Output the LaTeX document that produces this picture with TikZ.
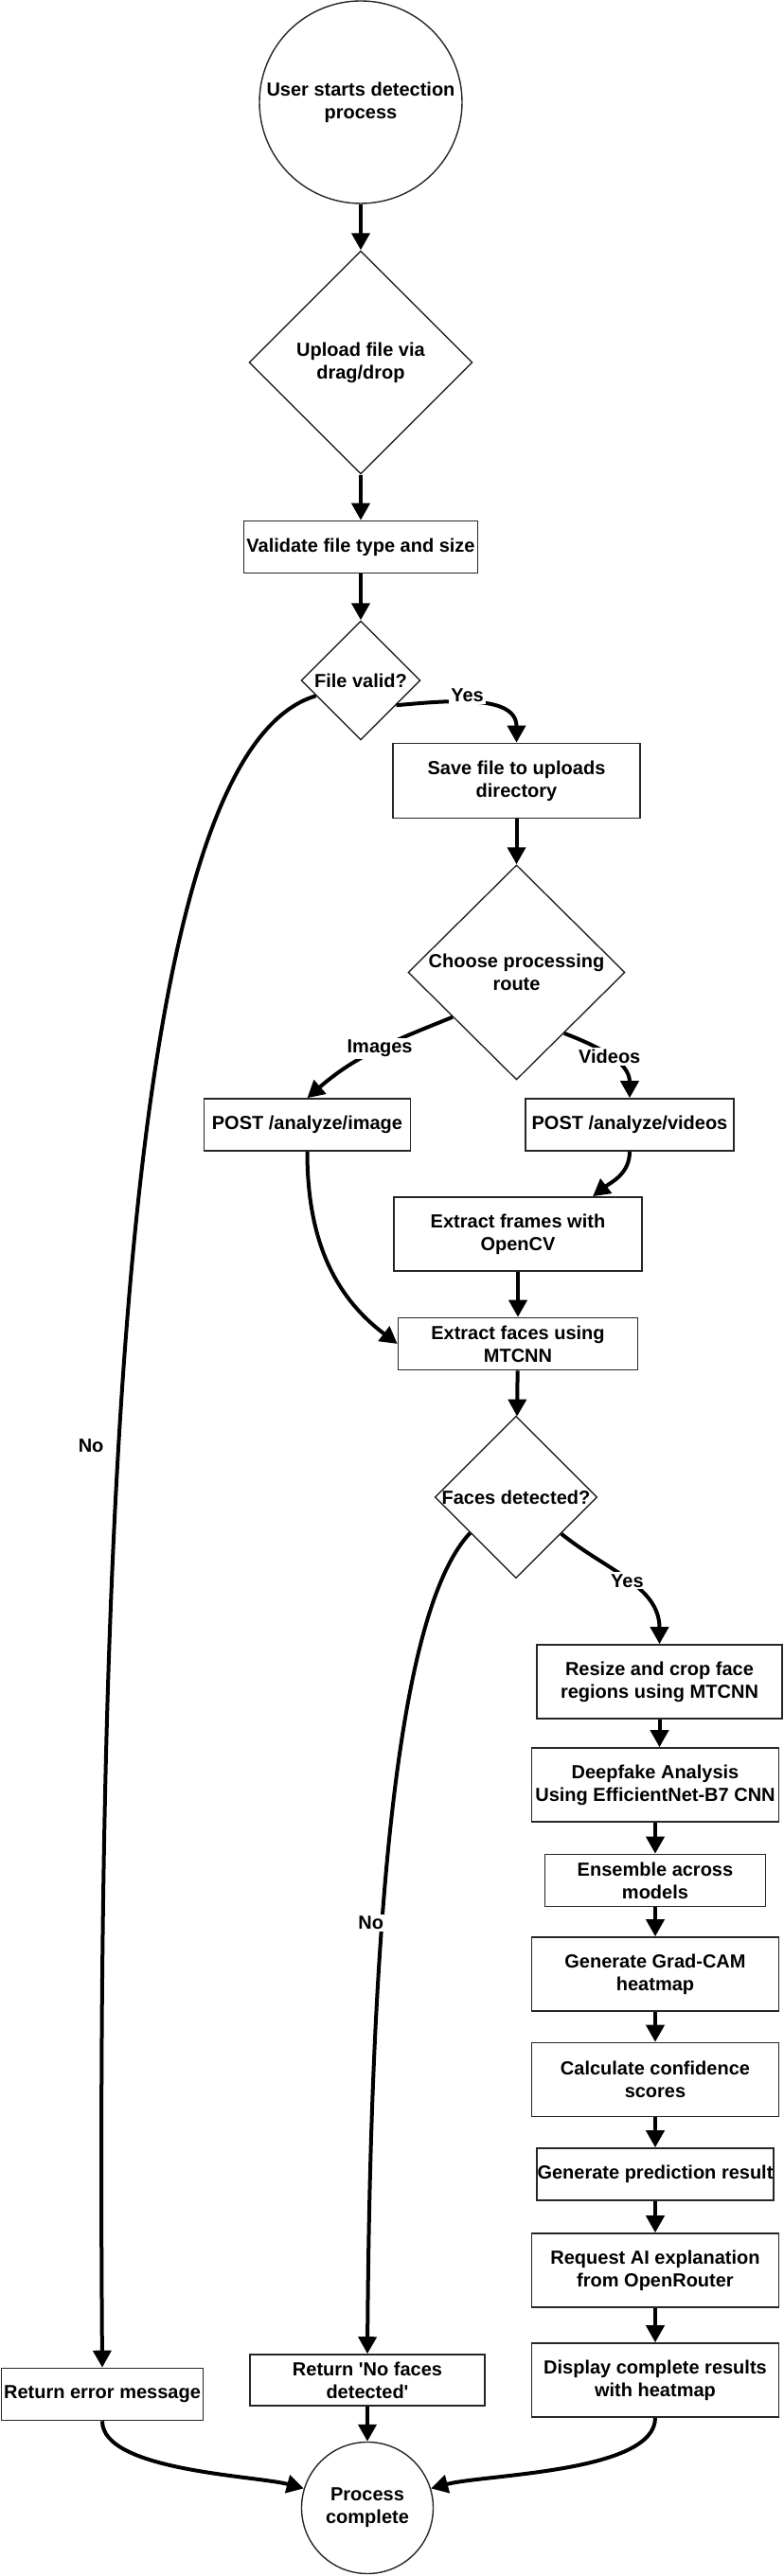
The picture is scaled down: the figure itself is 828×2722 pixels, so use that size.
\documentclass[tikz,border=0pt]{standalone}
\usepackage{fontspec}
\setmainfont{Liberation Sans}
\usetikzlibrary{shapes.geometric,arrows.meta,calc}

\tikzset{
  every node/.style={font=\bfseries\fontsize{10}{12}\selectfont},
  box/.style={draw=black!85, line width=0.8pt, rectangle, align=center, inner xsep=0pt, inner ysep=2pt},
  decision/.style={draw=black!85, line width=0.7pt, diamond, aspect=1, inner sep=0pt, align=center},
  terminal/.style={draw=black!85, line width=0.7pt, circle, inner sep=0pt, align=center},
  flow/.style={line width=2pt, -{Triangle[length=9pt,width=9.5pt]}},
  lbl/.style={fill=white, inner sep=1pt}
}

\begin{document}
\begin{tikzpicture}[x=0.5pt,y=0.5pt]
\useasboundingbox (0,0) rectangle (828,2722);

\node (start) [terminal, minimum size=107pt] at (381,2614) {User starts detection\\process};
\node (upload) [decision, minimum size=118pt] at (381,2339) {Upload file via\\drag/drop};
\node (validate) [box, minimum width=123.5pt, minimum height=27.5pt] at (381,2144) {Validate file type and size};
\node (valid) [decision, minimum size=63pt] at (381,2003) {File valid?};
\node (save) [box, minimum width=130.5pt, minimum height=39.5pt] at (545.5,1897) {Save file to uploads\\directory};
\node (route) [decision, minimum width=114.5pt, minimum height=113.5pt] at (545.5,1694.5) {Choose processing\\route};
\node (postimg) [box, minimum width=109pt, minimum height=27.5pt] at (324.5,1533.5) {POST /analyze/image};
\node (postvid) [box, minimum width=110pt, minimum height=27.5pt] at (665,1533.5) {POST /analyze/videos};
\node (frames) [box, minimum width=131pt, minimum height=39pt] at (547,1418) {Extract frames with\\OpenCV};
\node (faces) [box, minimum width=126.5pt, minimum height=27.5pt] at (547,1302) {Extract faces using\\MTCNN};
\node (detect) [decision, minimum size=84.5pt] at (545,1140) {Faces detected?};
\node (resize) [box, minimum width=129.5pt, minimum height=39pt] at (696.5,945) {Resize and crop face\\regions using MTCNN};
\node (deepfake) [box, minimum width=130.5pt, minimum height=39pt] at (692,836) {Deepfake Analysis\\Using EfficientNet-B7 CNN};
\node (ensemble) [box, minimum width=116.5pt, minimum height=27.5pt] at (692,735) {Ensemble across\\models};
\node (gradcam) [box, minimum width=130.5pt, minimum height=39pt] at (692,636) {Generate Grad-CAM\\heatmap};
\node (confid) [box, minimum width=130.5pt, minimum height=39pt] at (692,524.5) {Calculate confidence\\scores};
\node (predict) [box, minimum width=125pt, minimum height=27.5pt] at (692,424.5) {Generate prediction result};
\node (explain) [box, minimum width=130.5pt, minimum height=39pt] at (692,323) {Request AI explanation\\from OpenRouter};
\node (display) [box, minimum width=130.5pt, minimum height=39pt] at (692,207) {Display complete results\\with heatmap};
\node (noface) [box, minimum width=124pt, minimum height=27pt] at (388,207) {Return \textquotesingle No faces\\detected\textquotesingle};
\node (error) [box, minimum width=106.5pt, minimum height=27.5pt] at (108,192) {Return error message};
\node (done) [terminal, minimum size=69.5pt] at (388,72) {Process\\complete};

\draw [flow] (start) -- (upload);
\draw [flow] (upload) -- (validate);
\draw [flow] (validate) -- (valid);
\draw [flow] (valid.-35) to[out=5,in=90] node[lbl,pos=0.45,yshift=4pt] {Yes} (save.north);
\draw [flow] (valid.199) .. controls (150,1932) and (100,1272) .. (error.north)
	node[lbl,pos=0.64,left=6pt] {No};
\draw [flow] (save) -- (route);
\draw [flow] (route.215) to[out=202,in=41] node[lbl,pos=0.47] {Images} (postimg.north);
\draw [flow] (route.-52) to[out=-21,in=90] node[lbl,pos=0.5] {Videos} (postvid.north);
\draw [flow] (postimg.south) to[out=-90,in=143] (faces.west);
\draw [flow] (postvid.south) to[out=-90,in=38] ($(frames.north)!0.6!(frames.north east)$);
\draw [flow] (frames) -- (faces);
\draw [flow] (faces) -- (detect);
\draw [flow] (detect.-39) to[out=-39,in=90] node[lbl,pos=0.5] {Yes} (resize.north);
\draw [flow] (detect.218) .. controls (430,1032) and (392,772) .. (noface.north)
	node[lbl,pos=0.66,xshift=-6pt] {No};
\draw [flow] (resize.south) -- (resize.south |- deepfake.north);
\draw [flow] (deepfake) -- (ensemble);
\draw [flow] (ensemble) -- (gradcam);
\draw [flow] (gradcam) -- (confid);
\draw [flow] (confid) -- (predict);
\draw [flow] (predict) -- (explain);
\draw [flow] (explain) -- (display);
\draw [flow] (noface) -- (done);
\draw [flow] (error.south) to[out=-90,in=165,looseness=0.6] (done.163);
\draw [flow] (display.south) to[out=-90,in=15,looseness=0.6] (done.17);
\end{tikzpicture}
\end{document}
